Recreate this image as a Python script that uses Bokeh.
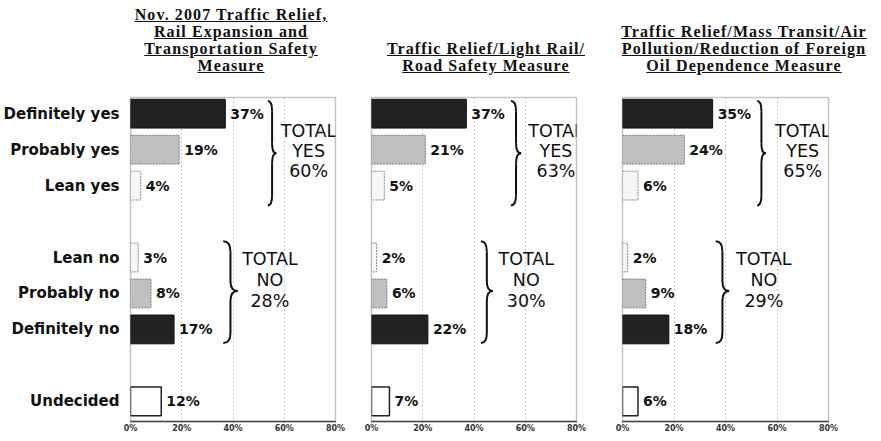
from bokeh.plotting import figure
from bokeh.models import Range1d, FixedTicker, ColumnDataSource, LabelSet, Div
from bokeh.layouts import row, column
from bokeh.core.properties import value
from bokeh.embed import file_html
from bokeh.resources import INLINE

# ---------------- data ----------------
categories = ["Definitely yes", "Probably yes", "Lean yes",
              "Lean no", "Probably no", "Definitely no", "Undecided"]
nov2007_measure = [37, 19, 4, 3, 8, 17, 12]
light_rail_measure = [37, 21, 5, 2, 6, 22, 7]
mass_transit_measure = [35, 24, 6, 2, 9, 18, 6]
total_yes = [60, 63, 65]
total_no = [28, 30, 29]
tick_values = [0, 20, 40, 60, 80]
tick_labels = ["0%", "20%", "40%", "60%", "80%"]
titles = [
    ["Nov. 2007 Traffic Relief,", "Rail Expansion and", "Transportation Safety", "Measure"],
    ["Traffic Relief/Light Rail/", "Road Safety Measure"],
    ["Traffic Relief/Mass Transit/Air", "Pollution/Reduction of Foreign", "Oil Dependence Measure"],
]

# ---------------- layout / style ----------------
slots = [0, 1, 2, 4, 5, 6, 8]          # row positions (gaps between groups)
kinds = ["def", "prob", "lean", "lean", "prob", "def", "und"]
kind_style = {
    "def":  dict(fill_color="#222222", line_color="#111111", line_width=1, line_dash="solid"),
    "prob": dict(fill_color="#c0c0c0", line_color="#7a7a7a", line_width=1, line_dash="2 1"),
    "lean": dict(fill_color="#f6f6f6", line_color="#8a8a8a", line_width=1, line_dash="2 1"),
    "und":  dict(fill_color="#ffffff", line_color="#222222", line_width=1.5, line_dash="solid"),
}
FONT = value("DejaVu Sans")

# per panel: figure width, borders, brace/total positions
panels = [
    dict(data=nov2007_measure, width=351, left=129, right=16,
         yes_brace=(53.6, 56.9), yes_text=69.5, no_brace=(36.2, 41.8), no_text=54.4, title_c=226, title_w=300),
    dict(data=light_rail_measure, width=247, left=20, right=22,
         yes_brace=(54.4, 58.4), yes_text=72.0, no_brace=(42.7, 47.3), no_text=60.4, title_c=481, title_w=260),
    dict(data=mass_transit_measure, width=267, left=24, right=37,
         yes_brace=(52.3, 55.6), yes_text=70.0, no_brace=(36.2, 41.4), no_text=54.9, title_c=739, title_w=252),
]


def draw_brace(p, x0, x1, ytop, ybot, ytip):
    xm = (x0 + x1) / 2
    r = 0.28
    p.quadratic(x0=[x0, xm, x1, xm], y0=[ytop, ytip - r, ytip, ybot - r],
                x1=[xm, x1, xm, x0], y1=[ytop + r, ytip, ytip + r, ybot],
                cx=[xm, xm, xm, xm], cy=[ytop, ytip, ytip, ybot],
                line_color="#111111", line_width=2)
    p.segment(x0=[xm, xm], y0=[ytop + r, ytip + r], x1=[xm, xm], y1=[ytip - r, ybot - r],
              line_color="#111111", line_width=2)


figs = []
for i, cfg in enumerate(panels):
    first = i == 0
    p = figure(width=cfg["width"], height=347,
               x_range=Range1d(0, 80), y_range=Range1d(8.56, -0.45),
               y_axis_location="left" if first else None,
               toolbar_location=None, output_backend="svg",
               min_border_left=cfg["left"], min_border_right=cfg["right"],
               min_border_top=9, min_border_bottom=14,
               background_fill_color="white", border_fill_color="white")
    p.outline_line_color = "#8c8c8c"
    p.outline_line_dash = "1 1"
    p.outline_line_width = 1.5

    # grid
    p.ygrid.visible = False
    p.xgrid.ticker = FixedTicker(ticks=[20, 40, 60])
    p.xgrid.grid_line_color = "#9a9a9a"
    p.xgrid.grid_line_dash = "1 3"
    p.xgrid.grid_line_width = 1

    # x axis
    p.xaxis.ticker = FixedTicker(ticks=tick_values)
    p.xaxis.major_label_overrides = {v: t for v, t in zip(tick_values, tick_labels)}
    p.xaxis.major_label_text_font = "DejaVu Sans"
    p.xaxis.major_label_text_font_style = "bold"
    p.xaxis.major_label_text_font_size = "8px"
    p.xaxis.major_label_text_color = "#333333"
    p.xaxis.major_label_standoff = 1
    p.xaxis.axis_line_color = "#444444"
    p.xaxis.axis_line_width = 1.5
    p.xaxis.major_tick_in = 0
    p.xaxis.major_tick_out = 1
    p.xaxis.major_tick_line_color = "#444444"
    p.xaxis.minor_tick_line_color = None

    if first:
        p.yaxis.ticker = FixedTicker(ticks=slots)
        p.yaxis.major_label_overrides = {s: c for s, c in zip(slots, categories)}
        p.yaxis.major_label_text_font = "DejaVu Sans"
        p.yaxis.major_label_text_font_style = "bold"
        p.yaxis.major_label_text_font_size = "15px"
        p.yaxis.major_label_text_color = "#111111"
        p.yaxis.major_label_standoff = 5
        p.yaxis.axis_line_color = None
        p.yaxis.major_tick_line_color = None
        p.yaxis.minor_tick_line_color = None

    vals = cfg["data"]
    for k, st in kind_style.items():
        idx = [j for j, kk in enumerate(kinds) if kk == k]
        src = ColumnDataSource(dict(y=[slots[j] for j in idx], v=[vals[j] for j in idx]))
        p.hbar(y="y", right="v", left=0, height=0.8, source=src, **st)

    lab = ColumnDataSource(dict(x=vals, y=slots, t=[f"{v}%" for v in vals]))
    p.text(x="x", y="y", text="t", source=lab, x_offset=5, text_baseline="middle",
           text_align="left", text_font=FONT, text_font_style="bold",
           text_font_size="14px", text_color="#111111")

    # braces
    yb = cfg["yes_brace"]
    draw_brace(p, yb[0], yb[1], slots[0] - 0.35, slots[2] + 0.55, 1.1)
    nb = cfg["no_brace"]
    draw_brace(p, nb[0], nb[1], slots[3] - 0.45, slots[5] + 0.38, 4.93)

    tot = ColumnDataSource(dict(
        x=[cfg["yes_text"]] * 3 + [cfg["no_text"]] * 3,
        y=[0.47, 1.03, 1.59, 4.05, 4.63, 5.21],
        t=["TOTAL", "YES", f"{total_yes[i]}%", "TOTAL", "NO", f"{total_no[i]}%"]))
    p.add_layout(LabelSet(x="x", y="y", text="t", source=tot, text_align="center",
                          text_baseline="middle", text_font=FONT,
                          text_font_size="17.5px", text_color="#111111"))
    figs.append(p)

blocks = ""
for cfg, lines in zip(panels, titles):
    left = cfg["title_c"] - cfg["title_w"] / 2
    blocks += (
        f'<div style="position:absolute;left:{left}px;width:{cfg["title_w"]}px;bottom:9px;'
        'text-align:center;white-space:nowrap;font-family:\'Liberation Serif\',serif;'
        'font-weight:bold;font-size:16px;line-height:17px;letter-spacing:1.1px;'
        'text-decoration:underline;color:#111;">' + "<br>".join(lines) + '</div>')
html = ('<div style="position:relative;width:865px;height:78px;">'
        + blocks + '</div>')
title_div = Div(text=html, width=865, height=78)

layout = column(title_div, row(*figs))
open("out.html", "w").write(file_html(layout, INLINE))
